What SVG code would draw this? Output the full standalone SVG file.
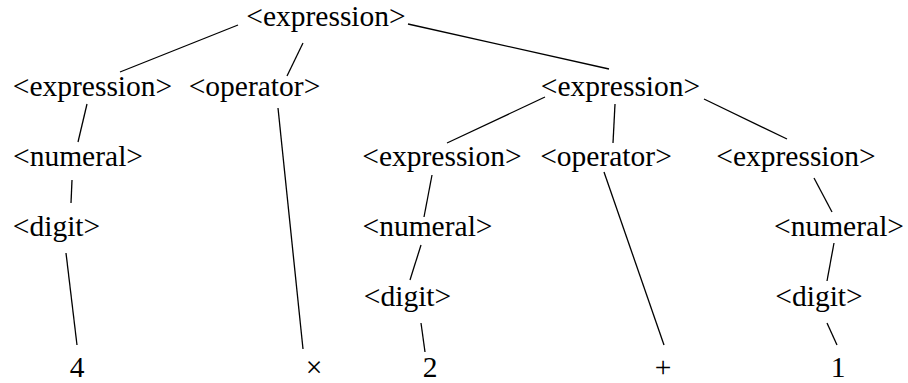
<svg xmlns="http://www.w3.org/2000/svg" width="908" height="383" viewBox="0 0 908 383">
<style>
.t text{font-family:'Liberation Serif','Times New Roman',Times,serif;font-size:29.5px;fill:#000;text-anchor:middle}
.e line{stroke:#000;stroke-width:1.3;stroke-linecap:butt}
</style>
<rect width="908" height="383" fill="#fff"/>
<g class="e" id="connectors">
<line x1="238" y1="25" x2="120" y2="72"/>
<line x1="303" y1="43" x2="287" y2="76"/>
<line x1="408" y1="24" x2="609" y2="69"/>
<line x1="87" y1="104" x2="78" y2="142"/>
<line x1="72" y1="180" x2="71" y2="203"/>
<line x1="66" y1="253" x2="77" y2="345"/>
<line x1="278" y1="108" x2="303" y2="349"/>
<line x1="545" y1="97" x2="447" y2="143"/>
<line x1="615" y1="104" x2="613" y2="143"/>
<line x1="704" y1="99" x2="787" y2="139"/>
<line x1="432" y1="175" x2="424" y2="217"/>
<line x1="421" y1="245" x2="410" y2="280"/>
<line x1="421" y1="323" x2="425" y2="352"/>
<line x1="604" y1="172" x2="664" y2="345"/>
<line x1="814" y1="178" x2="832" y2="212"/>
<line x1="834" y1="243" x2="827" y2="281"/>
<line x1="827" y1="323" x2="837" y2="345"/>
</g>
<g class="t" font-family="Liberation Serif, serif">
<g id="n_root"><text x="326" y="26">&lt;expression&gt;</text></g>
<g id="n_expr_l"><text x="92.5" y="96">&lt;expression&gt;</text></g>
<g id="n_op_l"><text x="254.5" y="96">&lt;operator&gt;</text></g>
<g id="n_expr_r"><text x="620.5" y="96">&lt;expression&gt;</text></g>
<g id="n_num_l"><text x="78" y="166">&lt;numeral&gt;</text></g>
<g id="n_expr_rl"><text x="442" y="166">&lt;expression&gt;</text></g>
<g id="n_op_r"><text x="606" y="166">&lt;operator&gt;</text></g>
<g id="n_expr_rr"><text x="796" y="166">&lt;expression&gt;</text></g>
<g id="n_dig_l"><text x="56.5" y="236">&lt;digit&gt;</text></g>
<g id="n_num_m"><text x="427.5" y="236">&lt;numeral&gt;</text></g>
<g id="n_num_r"><text x="839" y="236">&lt;numeral&gt;</text></g>
<g id="n_dig_m"><text x="407.5" y="306">&lt;digit&gt;</text></g>
<g id="n_dig_r"><text x="819" y="306">&lt;digit&gt;</text></g>
<g id="n_4"><text x="77" y="377">4</text></g>
<g id="n_times"><text x="314" y="377">×</text></g>
<g id="n_2"><text x="430" y="377">2</text></g>
<g id="n_plus"><text x="663" y="377">+</text></g>
<g id="n_1"><text x="838" y="377">1</text></g>
</g>
</svg>
